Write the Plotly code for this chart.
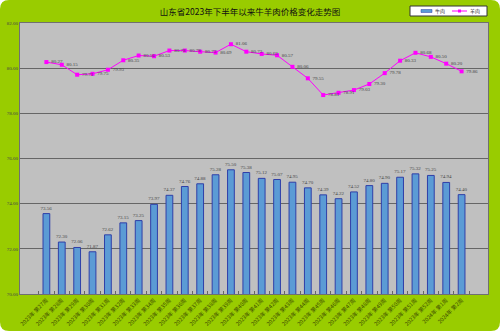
import plotly.graph_objects as go

categories = [f"2023年 第{w}周" for w in range(27, 53)] + ["2024年 第1周", "2024年 第2周"]
beef = [73.56, 72.30, 72.06, 71.87, 72.62, 73.15, 73.25, 73.97, 74.37, 74.76,
        74.88, 75.28, 75.50, 75.38, 75.12, 75.07, 74.95, 74.70, 74.39, 74.22,
        74.52, 74.80, 74.90, 75.17, 75.32, 75.25, 74.94, 74.40]
mutton = [80.27, 80.15, 79.71, 79.75, 79.93, 80.35, 80.56, 80.53, 80.78, 80.78,
          80.73, 80.69, 81.06, 80.73, 80.63, 80.57, 80.06, 79.55, 78.81, 78.91,
          79.03, 79.30, 79.78, 80.33, 80.68, 80.50, 80.20, 79.86]
series_names = ["牛肉", "羊肉"]
y_ticks = [70, 72, 74, 76, 78, 80, 82]

W, H = 500, 331
ML, MR, MT, MB = 20, 12, 23, 37
PW, PH = W - ML - MR, H - MT - MB
BLUE, BLUE_EDGE, MAG = "#5B9BD5", "#2F3FA8", "#FF00FF"


def px(x):
    return (x - ML) / PW


def py(y):
    return 1 - (y - MT) / PH


fig = go.Figure()
fig.add_trace(go.Bar(
    x=categories, y=beef, name=series_names[0],
    marker=dict(color=BLUE, line=dict(color=BLUE_EDGE, width=1)),
    texttemplate="%{y:.2f}", textposition="outside", constraintext="none",
    textfont=dict(size=5, color="#444444", family="Liberation Serif"),
    cliponaxis=False, showlegend=False,
))
fig.add_trace(go.Scatter(
    x=categories, y=mutton, name=series_names[1], mode="lines+markers+text",
    line=dict(color=MAG, width=1),
    marker=dict(symbol="square", size=4, color=MAG),
    texttemplate=" %{y:.2f}", textposition="middle right",
    textfont=dict(size=5, color="#444444", family="Liberation Serif"),
    cliponaxis=False, showlegend=False,
))

# rounded green background
rx, ry = 9 / PW, 9 / PH
x0, x1 = -ML / PW, 1 + MR / PW
y0, y1 = -MB / PH, 1 + MT / PH
path = (f"M {x0+rx},{y0} L {x1-rx},{y0} Q {x1},{y0} {x1},{y0+ry} "
        f"L {x1},{y1-ry} Q {x1},{y1} {x1-rx},{y1} "
        f"L {x0+rx},{y1} Q {x0},{y1} {x0},{y1-ry} "
        f"L {x0},{y0+ry} Q {x0},{y0} {x0+rx},{y0} Z")
fig.add_shape(type="path", path=path, xref="paper", yref="paper",
              fillcolor="#99CC00", line=dict(width=0), layer="below")
fig.add_shape(type="rect", x0=0, x1=1, y0=0, y1=1, xref="paper", yref="paper",
              fillcolor="#C0C0C0", line=dict(width=0), layer="below")

# custom legend
fig.add_shape(type="rect", x0=px(410), x1=px(487), y0=py(16), y1=py(6),
              xref="paper", yref="paper", fillcolor="white",
              line=dict(color="#333333", width=1), layer="above")
fig.add_shape(type="rect", x0=px(421), x1=px(432), y0=py(12.5), y1=py(9.5),
              xref="paper", yref="paper", fillcolor=BLUE,
              line=dict(color=BLUE_EDGE, width=0.5), layer="above")
fig.add_shape(type="line", x0=px(452), x1=px(467), y0=py(11), y1=py(11),
              xref="paper", yref="paper", line=dict(color=MAG, width=1),
              layer="above")
fig.add_shape(type="rect", x0=px(458), x1=px(461), y0=py(12.5), y1=py(9.5),
              xref="paper", yref="paper", fillcolor=MAG,
              line=dict(width=0), layer="above")
for xpos, name in [(433, series_names[0]), (468, series_names[1])]:
    fig.add_annotation(x=px(xpos), y=py(11), xref="paper", yref="paper",
                       text=name, showarrow=False, xanchor="left",
                       yanchor="middle",
                       font=dict(size=5, color="#333333",
                                 family="Noto Sans CJK SC"))

fig.update_layout(
    width=W, height=H,
    margin=dict(l=ML, r=MR, t=MT, b=MB, autoexpand=False),
    paper_bgcolor="white", plot_bgcolor="#C0C0C0",
    bargap=0.56,
    title=dict(text="山东省2023年下半年以来牛羊肉价格变化走势图",
               x=0.5, xanchor="center", y=1 - 12 / H, yanchor="middle",
               font=dict(size=8.5, color="#111111", family="Noto Sans CJK SC")),
    showlegend=False,
)
fig.update_xaxes(
    type="category", tickangle=-45,
    tickfont=dict(size=5.5, color="#3F4F00", family="Noto Sans CJK SC"),
    showline=True, linecolor="#707070", mirror=True,
    ticks="inside", ticklen=3, tickcolor="#666666", tickson="boundaries",
    showgrid=False,
)
fig.update_yaxes(
    range=[70, 82], tickvals=y_ticks, tickformat=".2f",
    tickfont=dict(size=5, color="#444444", family="Liberation Serif"),
    showgrid=True, gridcolor="#666666", gridwidth=1,
    showline=True, linecolor="#707070", mirror=True,
    zeroline=False, ticks="",
)

fig.write_html("out.html")
